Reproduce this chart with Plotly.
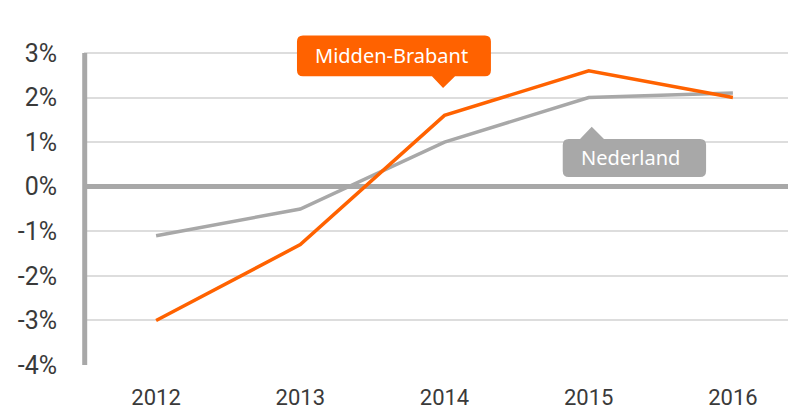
import plotly.graph_objects as go

years = [2012, 2013, 2014, 2015, 2016]
midden_brabant = [-3.0, -1.3, 1.6, 2.6, 2.0]
nederland = [-1.1, -0.5, 1.0, 2.0, 2.1]
y_ticks = [-4, -3, -2, -1, 0, 1, 2, 3]
y_ticklabels = [f"{v}%" for v in y_ticks]

ORANGE = "#FF6200"
GREY = "#A8A8A8"
GRID = "#DDDDDD"
TEXT = "#3A3A3A"
FONT = "Roboto, Noto Sans, sans-serif"

XU = 144.2   # px per year
YU = 44.57   # px per percent
PAGE_OFFSET = 8  # default body margin of the html page


def callout(x0, x1, y0, y1, tip, base, up):
    """Rounded box with triangular pointer; y0 bottom, y1 top."""
    rx, ry = 6 / XU, 6 / YU
    p = f"M{x0+rx},{y1} "
    if up:
        p += f"L{base[0]},{y1} L{tip[0]},{tip[1]} L{base[1]},{y1} "
    p += f"L{x1-rx},{y1} Q{x1},{y1} {x1},{y1-ry} L{x1},{y0+ry} Q{x1},{y0} {x1-rx},{y0} "
    if not up:
        p += f"L{base[1]},{y0} L{tip[0]},{tip[1]} L{base[0]},{y0} "
    p += f"L{x0+rx},{y0} Q{x0},{y0} {x0},{y0+ry} L{x0},{y1-ry} Q{x0},{y1} {x0+rx},{y1} Z"
    return p


fig = go.Figure()
fig.add_trace(go.Scatter(x=years, y=nederland, mode="lines", name="Nederland",
                         line=dict(color=GREY, width=3.5), cliponaxis=False))
fig.add_trace(go.Scatter(x=years, y=midden_brabant, mode="lines", name="Midden-Brabant",
                         line=dict(color=ORANGE, width=3.5), cliponaxis=False))

shapes = [
    dict(type="line", xref="paper", yref="y", x0=0.001, x1=0.001, y0=-4, y1=3,
         line=dict(color=GREY, width=5)),
    dict(type="path", xref="x", yref="y", fillcolor=ORANGE, line=dict(width=0),
         path=callout(2012.977, 2014.322, 2.476, 3.39, (2013.99, 2.214), (2013.913, 2014.073), up=False)),
    dict(type="path", xref="x", yref="y", fillcolor=GREY, line=dict(width=0),
         path=callout(2014.82, 2015.814, 0.218, 1.07, (2015.021, 1.346), (2014.94, 2015.106), up=True)),
]

annotations = [
    dict(x=2013.629, y=2.95, xref="x", yref="y", text="Midden-Brabant", showarrow=False,
         font=dict(family="Noto Sans, sans-serif", size=20, color="white")),
    dict(x=2015.29, y=0.65, xref="x", yref="y", text="Nederland", showarrow=False,
         font=dict(family="Noto Sans, sans-serif", size=20, color="white")),
]

fig.update_layout(
    width=796 - PAGE_OFFSET, height=412 - PAGE_OFFSET,
    margin=dict(l=84 - PAGE_OFFSET, r=0, t=0, b=47),
    paper_bgcolor="white", plot_bgcolor="white",
    showlegend=False,
    shapes=shapes,
    annotations=annotations,
    xaxis=dict(range=[2011.5, 2011.5 + (796 - 84) / XU], tickvals=years,
               ticktext=[str(y) for y in years], showgrid=False, zeroline=False,
               showline=False, ticks="", ticklabelstandoff=17, automargin=False,
               tickfont=dict(family=FONT, size=22, color=TEXT), fixedrange=True),
    yaxis=dict(range=[-4, (186.7 - PAGE_OFFSET) / YU], tickvals=y_ticks, ticktext=y_ticklabels,
               showgrid=True, gridcolor=GRID, gridwidth=2,
               zeroline=True, zerolinecolor=GREY, zerolinewidth=4.5,
               showline=False, ticks="", ticklabelstandoff=26, automargin=False,
               tickfont=dict(family=FONT, size=25, color=TEXT), fixedrange=True),
)

fig.write_html("out.html")
